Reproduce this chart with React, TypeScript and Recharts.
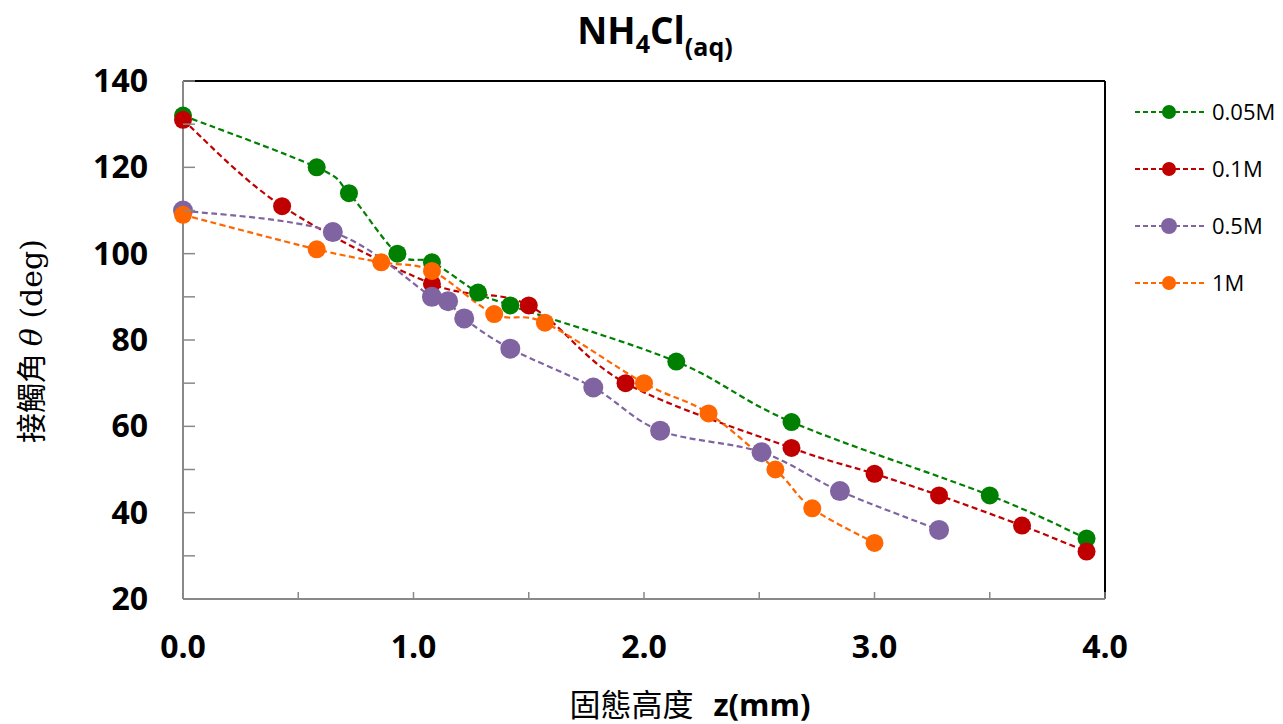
import React from "react";
import { LineChart, Line, XAxis, YAxis, ReferenceLine } from "recharts";

// z (mm) and contact angle (deg) for each concentration
const zGreen = [0, 0.58, 0.72, 0.93, 1.08, 1.28, 1.42, 2.14, 2.64, 3.5, 3.92];
const angleGreen = [132, 120, 114, 100, 98, 91, 88, 75, 61, 44, 34];

const zRed = [0, 0.43, 1.08, 1.5, 1.92, 2.64, 3.0, 3.28, 3.64, 3.92];
const angleRed = [131, 111, 93, 88, 70, 55, 49, 44, 37, 31];

const zPurple = [0, 0.65, 1.08, 1.15, 1.22, 1.42, 1.78, 2.07, 2.51, 2.85, 3.28];
const anglePurple = [110, 105, 90, 89, 85, 78, 69, 59, 54, 45, 36];

const zOrange = [0, 0.58, 0.86, 1.08, 1.35, 1.57, 2.0, 2.28, 2.57, 2.73, 3.0];
const angleOrange = [109, 101, 98, 96, 86, 84, 70, 63, 50, 41, 33];

const xTicks = [0, 0.5, 1, 1.5, 2, 2.5, 3, 3.5, 4];
const yTicks = [20, 30, 40, 50, 60, 70, 80, 90, 100, 110, 120, 130, 140];

const toPoints = (zs: number[], angles: number[]) =>
  zs.map((z, i) => ({ z, angle: angles[i] }));

const series = [
  { name: "0.05M", color: "#008000", r: 9, data: toPoints(zGreen, angleGreen) },
  { name: "0.1M", color: "#C00000", r: 9, data: toPoints(zRed, angleRed) },
  { name: "0.5M", color: "#8064A2", r: 10, data: toPoints(zPurple, anglePurple) },
  { name: "1M", color: "#FF6600", r: 9, data: toPoints(zOrange, angleOrange) },
];

const FONT = "'Open Sans', 'Noto Sans', sans-serif";
const AXIS_GRAY = "#898989";

// spreadsheet-style smoothed line (Catmull-Rom as cubic Bezier)
const smoothCurve = (context: any) => {
  let pts: number[][] = [];
  return {
    areaStart() {},
    areaEnd() {},
    lineStart() {
      pts = [];
    },
    point(x: number, y: number) {
      pts.push([+x, +y]);
    },
    lineEnd() {
      if (!pts.length) return;
      context.moveTo(pts[0][0], pts[0][1]);
      for (let i = 0; i < pts.length - 1; i++) {
        const p0 = pts[i - 1] || pts[i];
        const p1 = pts[i];
        const p2 = pts[i + 1];
        const p3 = pts[i + 2] || pts[i + 1];
        context.bezierCurveTo(
          p1[0] + (p2[0] - p0[0]) / 6,
          p1[1] + (p2[1] - p0[1]) / 6,
          p2[0] - (p3[0] - p1[0]) / 6,
          p2[1] - (p3[1] - p1[1]) / 6,
          p2[0],
          p2[1]
        );
      }
    },
  };
};

const XTick = (props: any) => {
  const { x, y, payload } = props;
  const v = payload.value;
  return (
    <g>
      <line x1={x} y1={y} x2={x} y2={y - 7} stroke={AXIS_GRAY} strokeWidth={1.5} />
      {Number.isInteger(v) && (
        <text x={x} y={y + 59} textAnchor="middle" fontFamily={FONT} fontWeight="bold" fontSize={32} fill="#000">
          {v.toFixed(1)}
        </text>
      )}
    </g>
  );
};

const YTick = (props: any) => {
  const { x, y, payload } = props;
  const v = payload.value;
  return (
    <g>
      <line x1={x} y1={y} x2={x + 12} y2={y} stroke={AXIS_GRAY} strokeWidth={1.5} />
      {v % 20 === 0 && (
        <text x={x - 35} y={y + 11} textAnchor="end" fontFamily={FONT} fontWeight="bold" fontSize={32} fill="#000">
          {v}
        </text>
      )}
    </g>
  );
};

export default function App() {
  return (
    <div style={{ position: "fixed", left: 0, top: 0, width: 1283, height: 724, background: "#fff" }}>
      <LineChart width={1283} height={724} margin={{ top: 81, right: 178, bottom: 0, left: 0 }}>
        <XAxis
          type="number"
          dataKey="z"
          domain={[0, 4]}
          ticks={xTicks}
          interval={0}
          tickSize={0}
          tickMargin={0}
          tickLine={false}
          tick={<XTick />}
          height={125}
          axisLine={{ stroke: AXIS_GRAY, strokeWidth: 2 }}
          allowDuplicatedCategory={false}
        />
        <YAxis
          type="number"
          dataKey="angle"
          domain={[20, 140]}
          ticks={yTicks}
          interval={0}
          tickSize={0}
          tickMargin={0}
          tickLine={false}
          tick={<YTick />}
          axisLine={{ stroke: AXIS_GRAY, strokeWidth: 2 }}
          width={183}
        />
        <ReferenceLine y={140} stroke="#000" strokeWidth={2} />
        <ReferenceLine x={4} stroke="#000" strokeWidth={2} />
        {series.map((s) => (
          <Line
            key={s.name}
            data={s.data}
            dataKey="angle"
            name={s.name}
            type={smoothCurve as any}
            stroke={s.color}
            strokeWidth={2.2}
            strokeDasharray="6 3.5"
            dot={{ r: s.r, fill: s.color, stroke: "none" }}
            activeDot={false}
            isAnimationActive={false}
          />
        ))}
      </LineChart>
      <svg width={1283} height={724} style={{ position: "absolute", left: 0, top: 0, pointerEvents: "none" }}>
        <text x={655} y={44} textAnchor="middle" fontFamily={FONT} fontWeight="bold" fontSize={37} fill="#000">
          NH
          <tspan fontSize={25} dy={9}>4</tspan>
          <tspan dy={-9}>Cl</tspan>
          <tspan fontSize={25} dy={12}>(aq)</tspan>
        </text>
        {series.map((s, i) => {
          const cy = 112 + i * 57;
          return (
            <g key={s.name}>
              <line x1={1135} y1={cy} x2={1205} y2={cy} stroke={s.color} strokeWidth={2} strokeDasharray="5 3" />
              <circle cx={1169} cy={cy} r={s.r === 10 ? 8 : 7} fill={s.color} />
              <text x={1212} y={cy + 8} fontFamily={FONT} fontSize={22} fill="#000">
                {s.name}
              </text>
            </g>
          );
        })}
        <text x={0} y={0} transform="translate(42, 341) rotate(-90)" textAnchor="middle" fontSize={30} fill="#000">
          <tspan fontFamily="'Noto Sans CJK TC', sans-serif">接觸角 </tspan>
          <tspan fontFamily="'DejaVu Serif', serif" fontStyle="italic">θ</tspan>
          <tspan fontFamily="'DejaVu Serif', serif"> (deg)</tspan>
        </text>
        <text x={690} y={716} textAnchor="middle" fontSize={31} fill="#000">
          <tspan fontFamily="'Noto Sans CJK TC', sans-serif">固態高度</tspan>
          <tspan fontFamily={FONT} fontWeight="bold" dx={20}>z(mm)</tspan>
        </text>
      </svg>
    </div>
  );
}
